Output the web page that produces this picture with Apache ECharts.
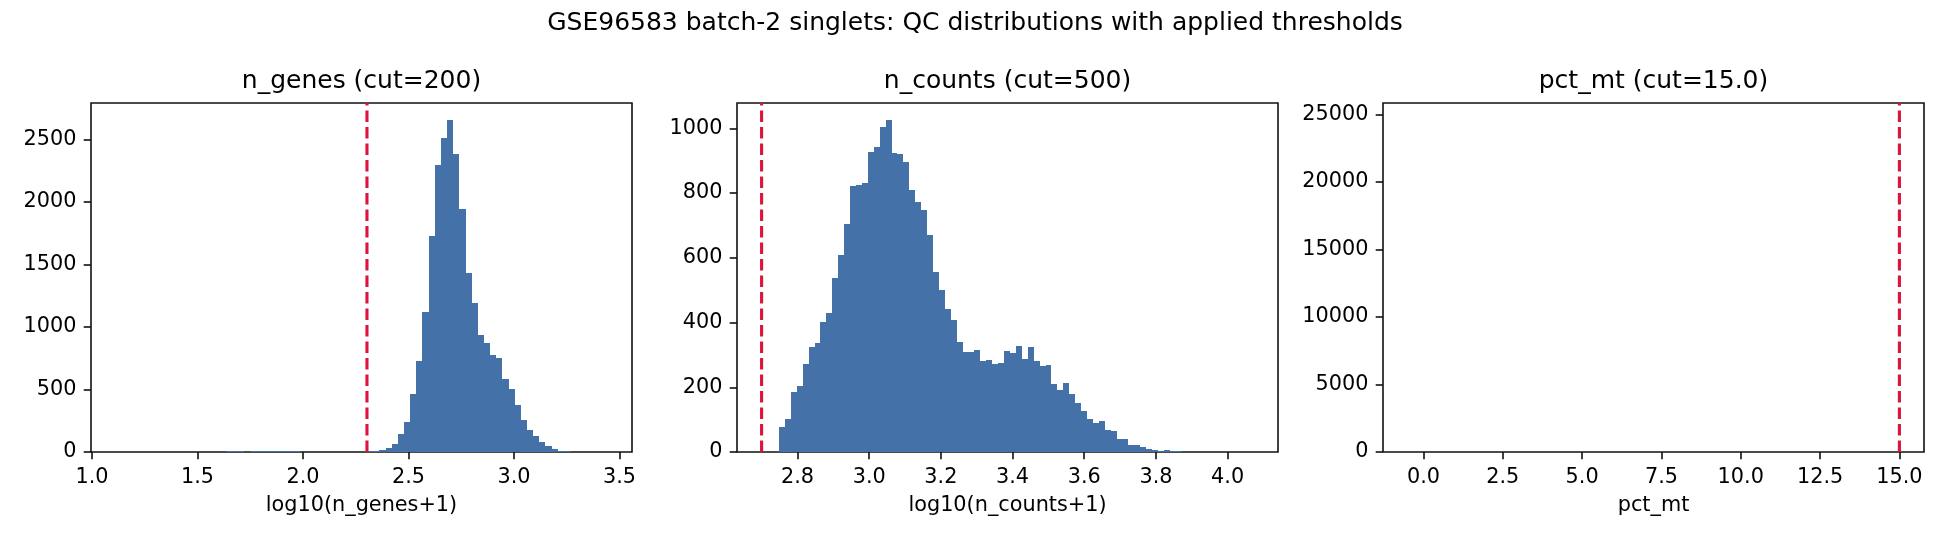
<!DOCTYPE html>
<html>
<head>
<meta charset="utf-8">
<script src="https://cdn.jsdelivr.net/npm/echarts@6/dist/echarts.min.js"></script>
<style>
html,body{margin:0;padding:0;background:#fff;}
#chart{width:1950px;height:540px;}
</style>
</head>
<body>
<div id="chart"></div>
<script>
// ---------- data ----------
const suptitle = "GSE96583 batch-2 singlets: QC distributions with applied thresholds";
const panelTitles = ["n_genes (cut=200)", "n_counts (cut=500)", "pct_mt (cut=15.0)"];
const xLabels = ["log10(n_genes+1)", "log10(n_counts+1)", "pct_mt"];

// histogram definitions (80 bins each)
const nGenesBinStart = 1.1117;
const nGenesBinWidth = 0.02914;
const nGenesCounts = [
  1, 0, 0, 1, 0, 0, 1, 0, 1, 0,
  1, 1, 0, 1, 2, 1, 2, 3, 6, 7,
  6, 3, 4, 7, 8, 8, 7, 8, 7, 6,
  2, 2, 1, 2, 1, 2, 2, 3, 2, 3,
  3, 4, 6, 18, 31, 65, 145, 239, 462, 725,
  1116, 1723, 2298, 2513, 2657, 2386, 1946, 1428, 1188, 933,
  869, 773, 749, 582, 502, 375, 255, 175, 127, 79,
  47, 23, 10, 5, 3, 2, 1, 1, 0, 1
];
const nGenesCut = 200;

const nCountsBinStart = 2.7497;
const nCountsBinWidth = 0.016528;
const nCountsCounts = [
  76, 101, 184, 203, 271, 323, 336, 403, 428, 539,
  610, 705, 823, 826, 832, 928, 943, 1005, 1027, 925,
  922, 897, 811, 771, 749, 669, 555, 502, 443, 409,
  339, 308, 308, 314, 280, 283, 271, 274, 311, 305,
  326, 286, 323, 280, 265, 268, 209, 193, 212, 178,
  150, 126, 101, 89, 95, 67, 64, 40, 40, 21,
  21, 15, 9, 6, 3, 6, 2, 2, 1, 1,
  0, 1, 0, 0, 1, 0, 0, 0, 0, 1
];
const nCountsCut = 500;

const pctMtBinStart = -0.5;
const pctMtBinWidth = 0.0125;
const pctMtCounts = [
  0, 0, 0, 0, 0, 0, 0, 0, 0, 0,
  0, 0, 0, 0, 0, 0, 0, 0, 0, 0,
  0, 0, 0, 0, 0, 0, 0, 0, 0, 0,
  0, 0, 0, 0, 0, 0, 0, 0, 0, 0,
  24621, 0, 0, 0, 0, 0, 0, 0, 0, 0,
  0, 0, 0, 0, 0, 0, 0, 0, 0, 0,
  0, 0, 0, 0, 0, 0, 0, 0, 0, 0,
  0, 0, 0, 0, 0, 0, 0, 0, 0, 0
];
const pctMtCut = 15.0;

// tick values
const nGenesXTicks = [1.0, 1.5, 2.0, 2.5, 3.0, 3.5];
const nCountsXTicks = [2.8, 3.0, 3.2, 3.4, 3.6, 3.8, 4.0];
const pctMtXTicks = [0.0, 2.5, 5.0, 7.5, 10.0, 12.5, 15.0];
const nGenesYTicks = [0, 500, 1000, 1500, 2000, 2500];
const nCountsYTicks = [0, 200, 400, 600, 800, 1000];
const pctMtYTicks = [0, 5000, 10000, 15000, 20000, 25000];

// ---------- styling / layout ----------
const BAR = '#4471a7';
const CUT = '#DC143C';
const INK = '#111';
const FONT = 'DejaVu Sans';
const TICK_FS = 20.8;
const TITLE_FS = 25;
const gridLefts = [91, 737, 1383];
const GRID_TOP = 103, GRID_W = 541, GRID_H = 349;

const panels = [
  {start: nGenesBinStart, width: nGenesBinWidth, counts: nGenesCounts, cutX: Math.log10(nGenesCut + 1), xt: nGenesXTicks, yt: nGenesYTicks},
  {start: nCountsBinStart, width: nCountsBinWidth, counts: nCountsCounts, cutX: Math.log10(nCountsCut + 1), xt: nCountsXTicks, yt: nCountsYTicks},
  {start: pctMtBinStart, width: pctMtBinWidth, counts: pctMtCounts, cutX: pctMtCut, xt: pctMtXTicks, yt: pctMtYTicks}
];

const grids = [], xAxes = [], yAxes = [], series = [], graphics = [];

graphics.push({type: 'text', x: 975, y: 23, silent: true,
  style: {text: suptitle, fontSize: TITLE_FS, fontFamily: FONT, fill: '#000', align: 'center', verticalAlign: 'middle'}});

panels.forEach((p, i) => {
  const binEnd = p.start + p.width * p.counts.length;
  const lo = Math.min(p.start, p.cutX), hi = Math.max(binEnd, p.cutX);
  const pad = 0.05 * (hi - lo);
  const ymax = 1.05 * Math.max(...p.counts);

  grids.push({left: gridLefts[i], top: GRID_TOP, width: GRID_W, height: GRID_H,
    show: true, borderColor: INK, borderWidth: 1.6, backgroundColor: 'transparent', containLabel: false});

  xAxes.push({type: 'value', gridIndex: i, min: lo - pad, max: hi + pad, position: 'bottom',
    name: xLabels[i], nameLocation: 'middle', nameGap: 43,
    nameTextStyle: {fontSize: TICK_FS, fontFamily: FONT, color: '#000'},
    axisLine: {show: false, onZero: false}, splitLine: {show: false},
    axisTick: {show: true, length: 7.3, customValues: p.xt, lineStyle: {color: INK, width: 1.6}},
    axisLabel: {customValues: p.xt, margin: 15, fontSize: TICK_FS, fontFamily: FONT, color: '#000',
      formatter: v => Number(v).toFixed(1)}});

  yAxes.push({type: 'value', gridIndex: i, min: 0, max: ymax, position: 'left',
    axisLine: {show: false, onZero: false}, splitLine: {show: false},
    axisTick: {show: true, length: 7.3, customValues: p.yt, lineStyle: {color: INK, width: 1.6}},
    axisLabel: {customValues: p.yt, margin: 14.6, fontSize: TICK_FS, fontFamily: FONT, color: '#000',
      formatter: v => String(Math.round(v))}});

  const data = [];
  p.counts.forEach((c, k) => {
    if (c > 0) data.push([p.start + k * p.width, p.start + (k + 1) * p.width, c]);
  });

  series.push({type: 'custom', xAxisIndex: i, yAxisIndex: i, data: data, silent: true,
    encode: {x: [0, 1], y: 2}, clip: true,
    renderItem: (params, api) => {
      const a = api.coord([api.value(0), api.value(2)]);
      const b = api.coord([api.value(1), 0]);
      // snap bar edges to pixel grid, like the reference renderer
      const x0 = Math.floor(a[0]), x1 = Math.floor(b[0]);
      const y0 = Math.round(a[1]), y1 = b[1];
      if (x1 - x0 <= 0 || y1 - y0 <= 0) return null;
      return {type: 'rect', shape: {x: x0, y: y0, width: x1 - x0, height: y1 - y0},
        style: {fill: BAR}};
    }});

  series.push({type: 'line', xAxisIndex: i, yAxisIndex: i, silent: true, symbol: 'none', z: 5,
    data: [[p.cutX, 0], [p.cutX, ymax]],
    lineStyle: {color: CUT, width: 3.1, type: [11.5, 5], cap: 'butt'}});

  graphics.push({type: 'text', x: gridLefts[i] + GRID_W / 2, y: 81, silent: true,
    style: {text: panelTitles[i], fontSize: TITLE_FS, fontFamily: FONT, fill: '#000', align: 'center', verticalAlign: 'middle'}});
});

const chart = echarts.init(document.getElementById('chart'), null, {renderer: 'canvas'});
chart.setOption({
  animation: false,
  backgroundColor: '#fff',
  grid: grids, xAxis: xAxes, yAxis: yAxes, series: series, graphic: graphics
});
</script>
</body>
</html>
